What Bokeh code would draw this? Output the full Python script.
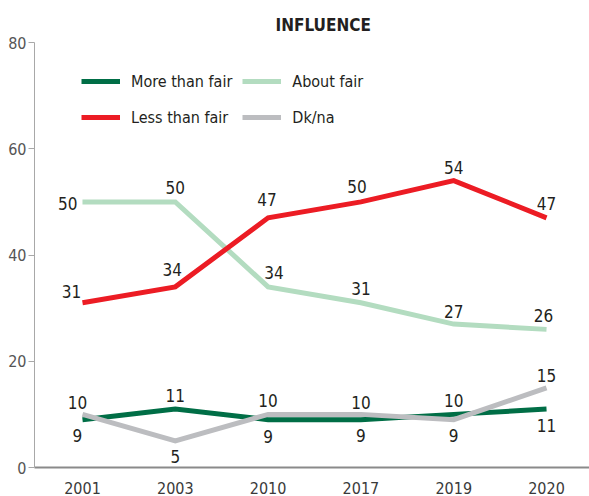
from bokeh.plotting import figure
from bokeh.models import Range1d, Legend, LegendItem, FixedTicker, ColumnDataSource
from bokeh.core.properties import value
from bokeh.embed import file_html
from bokeh.resources import INLINE

years = ["2001", "2003", "2010", "2017", "2019", "2020"]
more_than_fair = [9, 11, 9, 9, 10, 11]
about_fair = [50, 50, 34, 31, 27, 26]
less_than_fair = [31, 34, 47, 50, 54, 47]
dk_na = [10, 5, 10, 10, 9, 15]
y_ticks = [0, 20, 40, 60, 80]
title_text = "INFLUENCE"

FONT = "DejaVu Sans Condensed"
xs = list(range(len(years)))

p = figure(width=589, height=496, output_backend="svg", toolbar_location=None,
           x_range=Range1d(-0.517, 5.463), y_range=Range1d(0, 80),
           min_border_left=34, min_border_right=0, min_border_top=42, min_border_bottom=28)
p.outline_line_color = None
p.grid.visible = False
p.background_fill_color = "white"
p.border_fill_color = "white"

p.title.text = title_text
p.title.text_font = FONT
p.title.text_font_size = "17px"
p.title.text_font_style = "bold"
p.title.text_color = "#231f20"
p.title.align = "left"
p.title.offset = 241
p.title.standoff = 15

# axes
p.xaxis.ticker = FixedTicker(ticks=xs)
p.xaxis.major_label_overrides = {i: y for i, y in enumerate(years)}
p.xaxis.major_tick_line_color = None
p.xaxis.minor_tick_line_color = None
p.xaxis.axis_line_color = "#8a8a8a"
p.xaxis.axis_line_width = 2
p.xaxis.major_label_text_font = FONT
p.xaxis.major_label_text_font_size = "16px"
p.xaxis.major_label_text_color = "#3a3a3a"
p.xaxis.major_label_standoff = 8

p.yaxis.ticker = FixedTicker(ticks=y_ticks)
p.yaxis.minor_tick_line_color = None
p.yaxis.axis_line_color = "#a8a8a8"
p.yaxis.major_tick_line_color = "#a8a8a8"
p.yaxis.major_tick_out = 6
p.yaxis.major_tick_in = 0
p.yaxis.major_label_text_font = FONT
p.yaxis.major_label_text_font_size = "16px"
p.yaxis.major_label_text_color = "#555555"
p.yaxis.major_label_standoff = 2

series = [
    ("More than fair", more_than_fair, "#006e46"),
    ("About fair", about_fair, "#b3dcc0"),
    ("Less than fair", less_than_fair, "#ec1c24"),
    ("Dk/na", dk_na, "#bcbdc0"),
]
renderers = {}
for name, vals, col in series:
    renderers[name] = p.line(xs, vals, line_color=col, line_width=5, line_join="miter")

# data labels (style offsets in pixels)
label_style = {
    "More than fair": ([-5, 0, 0, 0, 0, 0], [16, -14, 17, 16, -14, 16]),
    "About fair": ([-5, 0, 6, 0, 0, -3], [2, -14, -14, -14, -13, -14]),
    "Less than fair": ([-11, -3, -1, -4, 0, 0], [-11, -17, -18, -15, -13, -14]),
    "Dk/na": ([-5, 0, 0, 0, 0, 0], [-12, 16, -14, -12, 16, -12]),
}
for name, vals, col in series:
    dx, dy = label_style[name]
    align = ["right" if (name == "About fair" and i == 0) else "center" for i in xs]
    src = ColumnDataSource(dict(x=xs, y=vals, t=[str(v) for v in vals], dx=dx, dy=dy, al=align))
    p.text(x="x", y="y", text="t", x_offset="dx", y_offset="dy", text_align="al",
           text_baseline="middle", text_font=value(FONT), text_font_size="17px",
           text_color="#231f20", source=src)

legend = Legend(items=[LegendItem(label=n, renderers=[renderers[n]]) for n, _, _ in series],
                ncols=2, location=(47, 337), orientation="horizontal")
legend.glyph_width = 39
legend.glyph_height = 26
legend.label_height = 26
legend.label_standoff = 11
legend.label_width = 97
legend.spacing = 10
legend.padding = 0
legend.margin = 0
legend.border_line_color = None
legend.background_fill_alpha = 0
legend.label_text_font = FONT
legend.label_text_font_size = "16px"
legend.label_text_color = "#231f20"
p.add_layout(legend, "center")

open("out.html", "w").write(file_html(p, INLINE))
